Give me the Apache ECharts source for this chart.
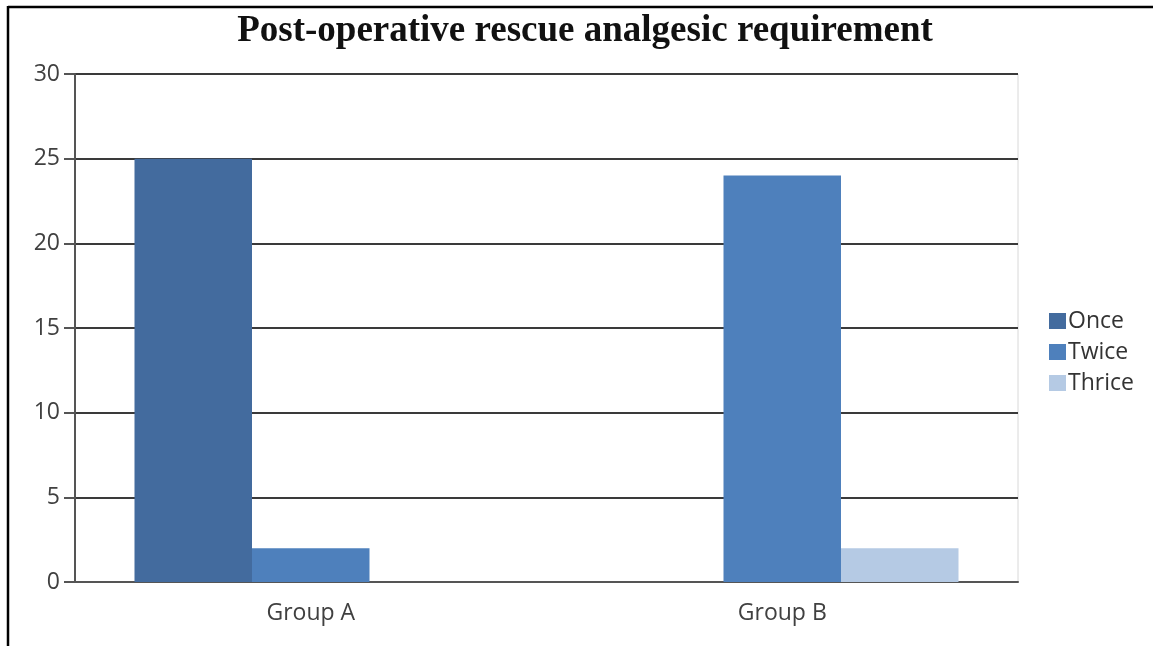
<!DOCTYPE html>
<html>
<head>
<meta charset="utf-8">
<script src="https://cdn.jsdelivr.net/npm/echarts@6/dist/echarts.min.js"></script>
<style>
  html, body { margin: 0; padding: 0; background: #fff; }
  #chart { width: 1153px; height: 646px; }
</style>
</head>
<body>
<div id="chart"></div>
<script>
// Number of patients needing rescue analgesia, by group
const categories = ['Group A', 'Group B'];
const seriesNames = ['Once', 'Twice', 'Thrice'];
const onceValues = [25, 0];
const twiceValues = [2, 24];
const thriceValues = [0, 2];
const yTicks = { min: 0, max: 30, interval: 5 };

const colors = ['#436b9e', '#4e80bc', '#b5cae4'];
const labelFont = { fontFamily: 'Open Sans', fontSize: 23, color: '#404040' };

const chart = echarts.init(document.getElementById('chart'), null, { renderer: 'canvas' });

const valueSets = [onceValues, twiceValues, thriceValues];

chart.setOption({
  animation: false,
  backgroundColor: '#fff',
  title: {
    text: 'Post-operative rescue analgesic requirement',
    left: 580,
    top: 8,
    textAlign: 'center',
    textStyle: {
      fontFamily: 'Liberation Serif',
      fontWeight: 'bold',
      fontSize: 37,
      color: '#111'
    }
  },
  legend: {
    orient: 'vertical',
    left: 1044,
    top: 304,
    itemWidth: 17,
    itemHeight: 16,
    itemGap: 7,
    icon: 'rect',
    data: seriesNames,
    textStyle: Object.assign({}, labelFont, { color: '#333', padding: [0, 0, 0, -3], lineHeight: 24 })
  },
  grid: {
    left: 75,
    right: 135,
    top: 74,
    bottom: 64,
    show: true,
    borderColor: '#d8d8d8',
    borderWidth: 1,
    containLabel: false
  },
  xAxis: {
    type: 'category',
    data: categories,
    axisLine: { lineStyle: { color: '#555', width: 2 } },
    axisTick: { show: false },
    axisLabel: Object.assign({}, labelFont, { margin: 20 })
  },
  yAxis: {
    type: 'value',
    min: yTicks.min,
    max: yTicks.max,
    interval: yTicks.interval,
    axisLine: { show: true, lineStyle: { color: '#555', width: 2 } },
    axisTick: { show: true, length: 11, lineStyle: { color: '#555', width: 2 } },
    axisLabel: Object.assign({}, labelFont, { margin: 15 }),
    splitLine: { lineStyle: { color: '#3a3a3a', width: 2 } }
  },
  series: seriesNames.map((name, i) => ({
    name: name,
    type: 'bar',
    data: valueSets[i],
    barWidth: 117.5,
    barGap: '0%',
    itemStyle: { color: colors[i] }
  })),
  graphic: [
    // page frame: top and left rules
    { type: 'line', shape: { x1: 8, y1: 7, x2: 1153, y2: 7 }, style: { stroke: '#000', lineWidth: 2.5 } },
    { type: 'line', shape: { x1: 8, y1: 6, x2: 8, y2: 646 }, style: { stroke: '#000', lineWidth: 2.5 } }
  ]
});
</script>
</body>
</html>
